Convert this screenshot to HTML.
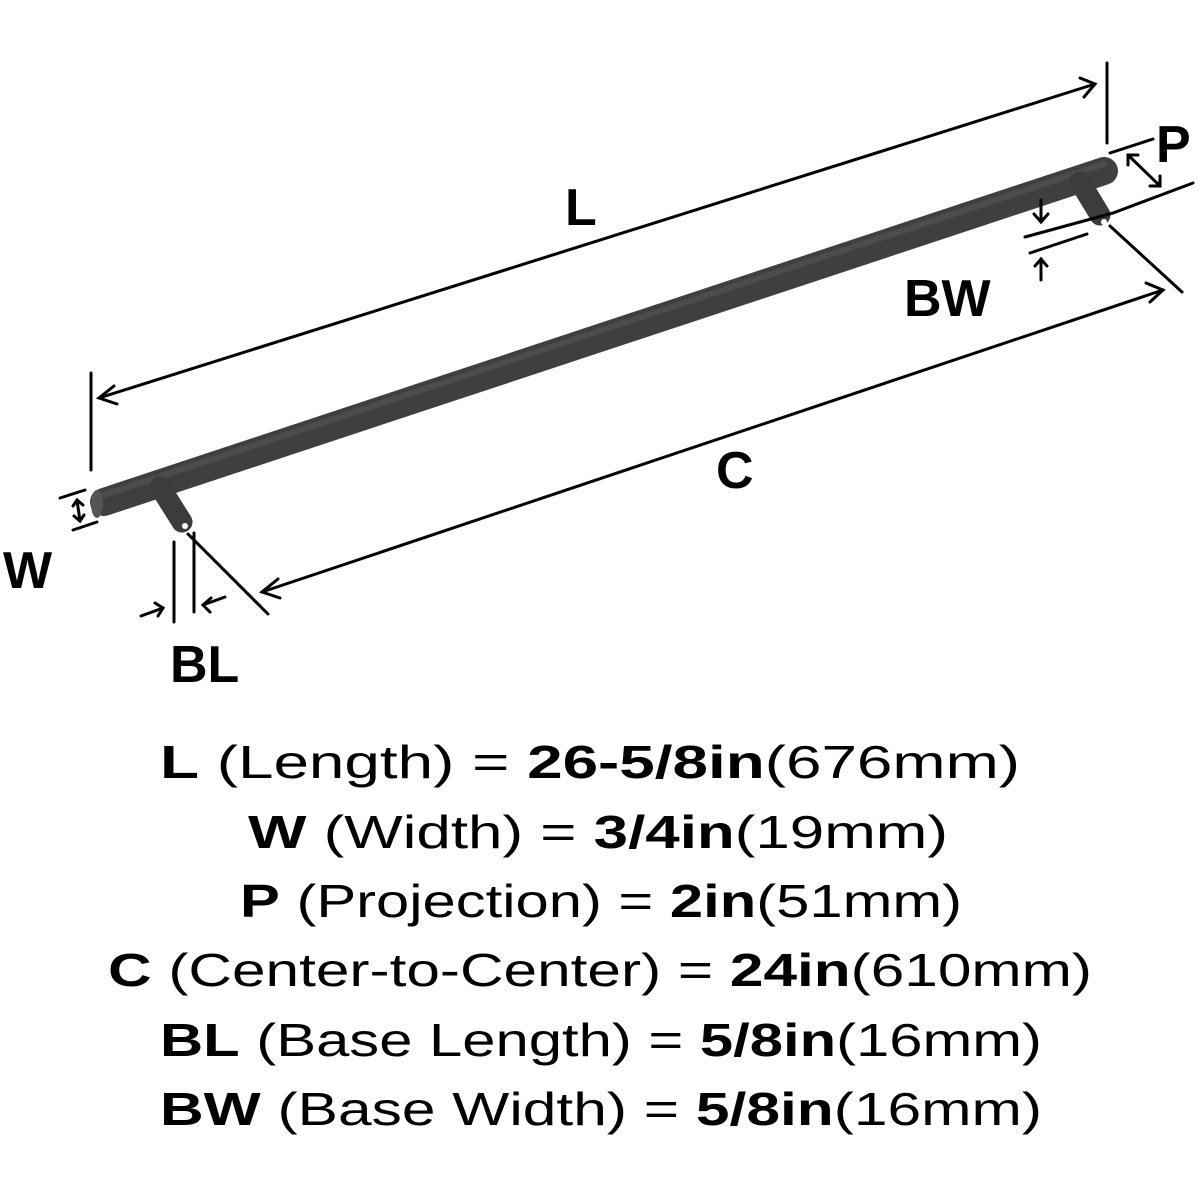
<!DOCTYPE html>
<html><head><meta charset="utf-8"><style>
html,body{margin:0;padding:0;background:#fff;width:1200px;height:1200px;overflow:hidden}
svg{display:block}
text{font-family:"Liberation Sans",sans-serif;fill:#000}
</style></head><body>
<svg width="1200" height="1200" viewBox="0 0 1200 1200" xmlns="http://www.w3.org/2000/svg">
<!-- bar -->
<line x1="104" y1="502" x2="1104" y2="171" stroke="#3f3f3f" stroke-width="28" stroke-linecap="round"/>
<line x1="104" y1="495" x2="1104" y2="164" stroke="#555" stroke-width="6" stroke-linecap="round" opacity="0.6"/>
<ellipse cx="97" cy="504" rx="6" ry="14" fill="#555"/>
<!-- posts -->
<line x1="160" y1="487" x2="182" y2="522" stroke="#3c3c3c" stroke-width="21" stroke-linecap="round"/>
<circle cx="185" cy="526" r="3" fill="#fff"/>
<line x1="1080" y1="182" x2="1100" y2="215" stroke="#3c3c3c" stroke-width="21" stroke-linecap="round"/>
<circle cx="1104" cy="222" r="3" fill="#fff"/>
<g stroke="#000" stroke-width="3" fill="none" stroke-linecap="round">
<line x1="91" y1="373" x2="91" y2="470"/>
<line x1="1107" y1="63" x2="1107" y2="143"/>
<line x1="99" y1="398" x2="1095" y2="84"/>
<polyline points="114,386 99,398 117,404"/>
<polyline points="1080,78 1095,84 1084,97"/>
<line x1="188" y1="534" x2="268" y2="614"/>
<line x1="1110" y1="226" x2="1182" y2="292"/>
<line x1="262" y1="592" x2="1163" y2="290"/>
<polyline points="278,579 262,592 280,598"/>
<polyline points="1146,283 1163,290 1150,302"/>
<line x1="60" y1="498" x2="85" y2="490"/>
<line x1="73" y1="530" x2="97" y2="522"/>
<line x1="77" y1="500" x2="80" y2="521"/>
<polyline points="73,506 77,500 83,505"/>
<polyline points="74,516 80,521 84,515"/>
<line x1="174" y1="542" x2="174" y2="622"/>
<line x1="194" y1="533" x2="194" y2="612"/>
<line x1="141" y1="616" x2="163" y2="608"/>
<polyline points="155,603 163,608 158,616"/>
<line x1="225" y1="597" x2="203" y2="605"/>
<polyline points="211,598 203,605 210,612"/>
<line x1="1110" y1="153" x2="1153" y2="139"/>
<line x1="1113" y1="213" x2="1193" y2="183"/>
<line x1="1128" y1="155" x2="1160" y2="186"/>
<polyline points="1128,165 1128,155 1138,155"/>
<polyline points="1150,186 1160,186 1160,176"/>
<line x1="1025" y1="237" x2="1113" y2="213"/>
<line x1="1030" y1="253" x2="1087" y2="234"/>
<line x1="1041" y1="200" x2="1041" y2="222"/>
<polyline points="1034,214 1041,222 1048,214"/>
<line x1="1041" y1="259" x2="1041" y2="280"/>
<polyline points="1035,266 1041,259 1047,266"/>
</g>
<g font-size="52" font-weight="bold">
<text x="565" y="225">L</text>
<text x="716" y="488">C</text>
<text x="3" y="588">W</text>
<text x="170" y="682">BL</text>
<text x="904" y="316">BW</text>
<text x="1156" y="162">P</text>
</g>
<g font-size="46" text-anchor="middle">
<text x="590" y="778" textLength="860" lengthAdjust="spacingAndGlyphs"><tspan font-weight="bold">L</tspan> (Length) = <tspan font-weight="bold">26-5/8in</tspan>(676mm)</text>
<text x="598" y="848" textLength="700" lengthAdjust="spacingAndGlyphs"><tspan font-weight="bold">W</tspan> (Width) = <tspan font-weight="bold">3/4in</tspan>(19mm)</text>
<text x="601" y="917" textLength="722" lengthAdjust="spacingAndGlyphs"><tspan font-weight="bold">P</tspan> (Projection) = <tspan font-weight="bold">2in</tspan>(51mm)</text>
<text x="600" y="986" textLength="984" lengthAdjust="spacingAndGlyphs"><tspan font-weight="bold">C</tspan> (Center-to-Center) = <tspan font-weight="bold">24in</tspan>(610mm)</text>
<text x="601" y="1056" textLength="882" lengthAdjust="spacingAndGlyphs"><tspan font-weight="bold">BL</tspan> (Base Length) = <tspan font-weight="bold">5/8in</tspan>(16mm)</text>
<text x="601" y="1125" textLength="882" lengthAdjust="spacingAndGlyphs"><tspan font-weight="bold">BW</tspan> (Base Width) = <tspan font-weight="bold">5/8in</tspan>(16mm)</text>
</g>
</svg>
</body></html>
